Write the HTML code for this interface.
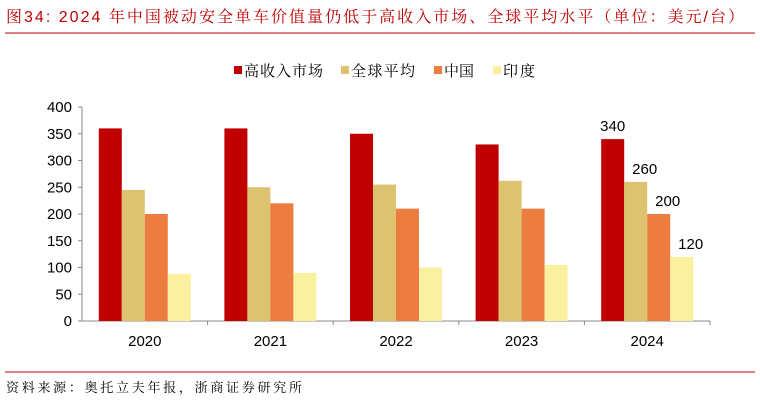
<!DOCTYPE html>
<html><head><meta charset="utf-8"><style>
body{margin:0;background:#fff;}
svg text{font-family:"Liberation Sans","Noto Sans CJK SC",sans-serif;}
svg text.cjk{font-family:"Liberation Sans","Noto Serif CJK SC",serif;}
</style></head><body>
<svg id="c" width="760" height="404" xmlns="http://www.w3.org/2000/svg">
<text class="cjk" x="6" y="22" font-size="16" fill="#C00000" textLength="738" lengthAdjust="spacing">图34:  2024 年中国被动安全单车价值量仍低于高收入市场、全球平均水平（单位：美元/台）</text>
<line x1="5" y1="33" x2="755" y2="33" stroke="#C00000" stroke-width="1"/>
<line x1="5" y1="372" x2="755" y2="372" stroke="#C00000" stroke-width="1"/>
<text class="cjk" x="6" y="392" font-size="13" fill="#000" textLength="296" lengthAdjust="spacing">资料来源：奥托立夫年报，浙商证券研究所</text>
<g id="legend"></g>
<g id="plot"></g>
</svg>
<script>
const categories=["2020","2021","2022","2023","2024"];
const seriesNames=["高收入市场","全球平均","中国","印度"];
const highIncome=[360,360,350,330,340];
const globalAvg=[245,250,255,262,260];
const china=[200,220,210,210,200];
const india=[88,90,100,105,120];
const yTicks=[0,50,100,150,200,250,300,350,400];
const colors=["#C00000","#DDC26F","#EC7C3F","#FAF0A0"];
const series=[highIncome,globalAvg,china,india];
const NS="http://www.w3.org/2000/svg";
const x0=82,x1=710,y0=321,yTop=107,yMax=400;
const yS=v=>y0-(y0-yTop)*v/yMax;
const gw=(x1-x0)/categories.length,bw=23;
const plot=document.getElementById('plot');
function mk(tag,attrs,parent){const e=document.createElementNS(NS,tag);for(const k in attrs)e.setAttribute(k,attrs[k]);parent.appendChild(e);return e;}
let ya=mk('line',{x1:x0,y1:yTop,x2:x0,y2:y0,stroke:'#888'},plot);


let xa=mk('line',{x1:x0,y1:y0,x2:x1,y2:y0,stroke:'#888'},plot);


yTicks.forEach(t=>{
  let tk=mk('line',{x1:x0-4,y1:yS(t),x2:x0,y2:yS(t),stroke:'#888'},plot);
  
  
  let tx=mk('text',{x:x0-10,y:yS(t)+5,'font-size':15,'text-anchor':'end'},plot);
  tx.textContent=t;
  
  
});
categories.forEach((c,i)=>{
  const cx=x0+gw*(i+0.5);
  let tk=mk('line',{x1:x0+gw*(i+1),y1:y0,x2:x0+gw*(i+1),y2:y0+4,stroke:'#888'},plot);
  
  
  let tx=mk('text',{x:cx,y:y0+25,'font-size':15,'text-anchor':'middle'},plot);
  tx.textContent=c;
  
  
  series.forEach((s,j)=>{
    const bx=cx-2*bw+j*bw;
    let r=mk('rect',{x:bx,y:yS(s[i]),width:bw,height:y0-yS(s[i]),fill:colors[j]},plot);
    
    
    if(i===categories.length-1){
      let l=mk('text',{x:bx+bw/2+(j===0?0:9),y:yS(s[i])-8,'font-size':15,'text-anchor':'middle'},plot);
      l.textContent=s[i];
      
      
    }
  });
});
const lg=document.getElementById('legend');
const lx=[234,341,434,493];
const lw=[79,64,30,32];
seriesNames.forEach((n,j)=>{
  let r=mk('rect',{x:lx[j],y:66,width:8,height:8,fill:colors[j]},lg);
  
  
  let t=mk('text',{x:lx[j]+10,y:76,'font-size':15,'class':'cjk',textLength:lw[j],lengthAdjust:'spacing'},lg);
  t.textContent=n;
  
  
});
</script>
</body></html>
